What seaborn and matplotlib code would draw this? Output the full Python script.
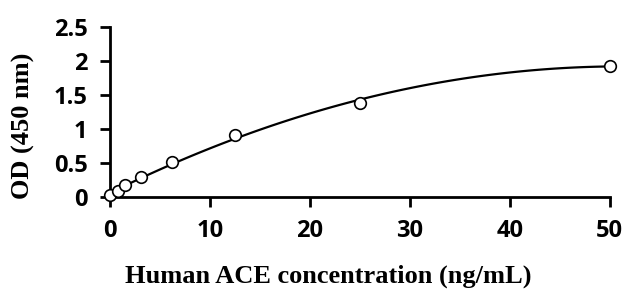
import matplotlib
matplotlib.use("Agg")
import matplotlib.pyplot as plt
import seaborn as sns
import pandas as pd

# standard curve data
conc = [0, 0.78, 1.56, 3.125, 6.25, 12.5, 25, 50]
od = [0.03, 0.09, 0.18, 0.29, 0.51, 0.91, 1.38, 1.93]
x_ticks = [0, 10, 20, 30, 40, 50]
y_ticks = [0, 0.5, 1, 1.5, 2, 2.5]
y_tick_labels = ['0', '0.5', '1', '1.5', '2', '2.5']

df = pd.DataFrame({'conc': conc, 'od': od})

sns.set_style('ticks')
plt.rcParams['font.family'] = ['Open Sans', 'DejaVu Sans']
plt.rcParams['text.color'] = 'black'
plt.rcParams['axes.labelcolor'] = 'black'
plt.rcParams['xtick.color'] = 'black'
plt.rcParams['ytick.color'] = 'black'

fig = plt.figure(figsize=(6.28, 2.91), dpi=100)
ax = fig.add_axes([0.175, 0.323, 0.796, 0.584])

# polynomial trendline
sns.regplot(data=df, x='conc', y='od', order=2, ci=None, scatter=False,
            truncate=True, ax=ax, line_kws={'color': 'black', 'lw': 1.6})
sns.scatterplot(data=df, x='conc', y='od', ax=ax, s=70, marker='o',
                facecolor='white', edgecolor='black', linewidth=1.2, zorder=3)

ax.set_xlim(0, 50)
ax.set_ylim(0, 2.5)
ax.set_xticks(x_ticks)
ax.set_yticks(y_ticks)
ax.set_yticklabels(y_tick_labels)
ax.tick_params(axis='both', direction='out', length=7, width=2, labelsize=17,
               color='black', labelcolor='black', pad=9)
for lab in ax.get_xticklabels() + ax.get_yticklabels():
    lab.set_fontweight('bold')

for side in ['top', 'right']:
    ax.spines[side].set_visible(False)
for side in ['left', 'bottom']:
    ax.spines[side].set_linewidth(2)
    ax.spines[side].set_color('black')
for c in ax.collections + ax.lines:
    c.set_clip_on(False)

ax.set_xlabel('Human ACE concentration (ng/mL)', fontsize=19, fontweight='bold',
              family='Liberation Serif', color='black')
ax.set_ylabel('OD (450 nm)', fontsize=19, fontweight='bold',
              family='Liberation Serif', color='black')
ax.xaxis.set_label_coords(0.436, -0.40)
ax.yaxis.set_label_coords(-0.15, 0.42)

fig.savefig('out.png', dpi=100)
